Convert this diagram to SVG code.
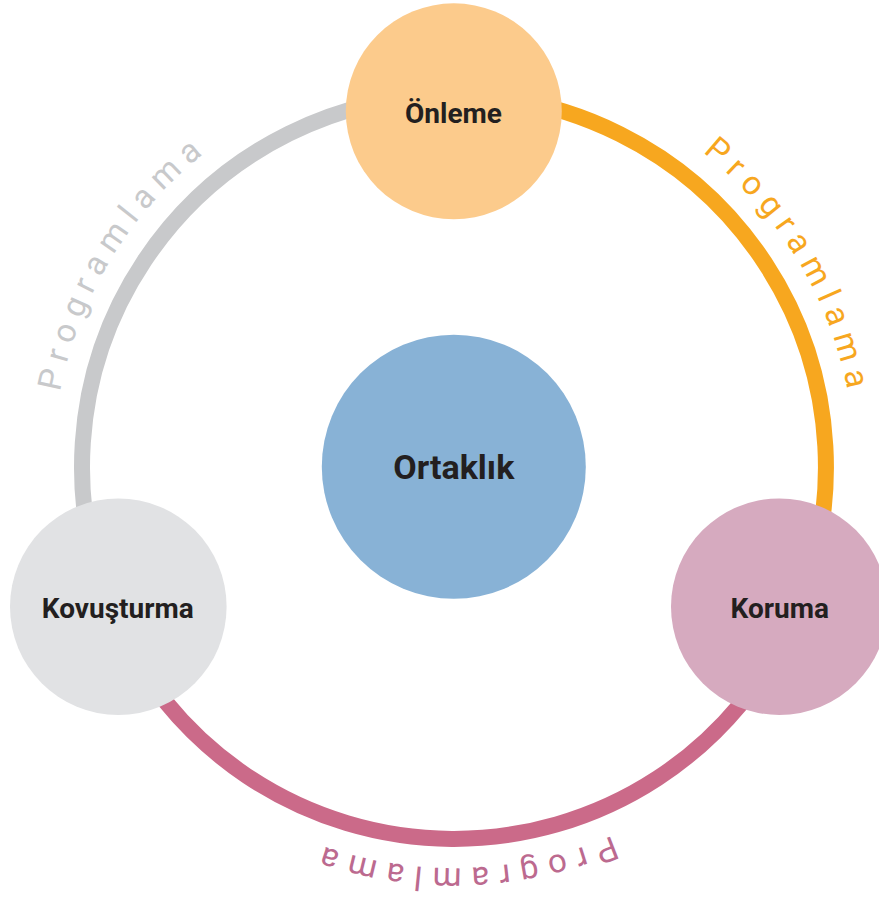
<svg xmlns="http://www.w3.org/2000/svg" xmlns:xlink="http://www.w3.org/1999/xlink" width="879" height="899" viewBox="0 0 879 899">
  <style>
    .ring { fill: none; stroke-width: 16; stroke-linecap: butt; }
    .lbl { font-family: Roboto, "Liberation Sans", sans-serif; font-weight: 700; fill: #231F20; text-anchor: middle; }
    .arc-txt { font-family: Roboto, "Liberation Sans", sans-serif; font-weight: 400; font-size: 33px; letter-spacing: 8.4px; }
  </style>
  <defs>
    <path id="txtCircle" d="M 855 467 A 401 401 0 1 1 53 467 A 401 401 0 1 1 855 467"/>
  </defs>
  <rect width="879" height="899" fill="#FFFFFF"/>

  <g id="connectors">
    <path class="ring" stroke="#C8C9CB" d="M 110.6 610 A 372 372 0 0 1 454 95"/>
    <path class="ring" stroke="#F7A71F" d="M 454 95 A 372 372 0 0 1 795.6 614.1"/>
    <path class="ring" stroke="#CB6A89" d="M 795.6 614.1 A 372 372 0 0 1 110.6 610"/>
    <text class="arc-txt" fill="#C8C9CB"><textPath xlink:href="#txtCircle" startOffset="1334.7">Programlama</textPath></text>
    <text class="arc-txt" fill="#F7A71F"><textPath xlink:href="#txtCircle" startOffset="2156.8">Programlama</textPath></text>
    <text class="arc-txt" fill="#BC6A8F" style="letter-spacing:9.6px"><textPath xlink:href="#txtCircle" startOffset="466.8">Programlama</textPath></text>
  </g>

  <g id="node-onleme">
    <circle cx="453.8" cy="111.3" r="108" fill="#FCCB8C"/>
    <text class="lbl" x="453.5" y="123.3" font-size="28">Önleme</text>
  </g>

  <g id="node-kovusturma">
    <circle cx="118.3" cy="606.7" r="108.3" fill="#E1E2E4"/>
    <text class="lbl" x="117.8" y="618.3" font-size="28">Kovuşturma</text>
  </g>

  <g id="node-koruma">
    <circle cx="779.3" cy="606.7" r="108.3" fill="#D6AABF"/>
    <text class="lbl" x="779.7" y="618.3" font-size="28">Koruma</text>
  </g>

  <g id="node-ortaklik">
    <circle cx="453.8" cy="466.7" r="132" fill="#88B2D6"/>
    <text class="lbl" x="453.8" y="479.3" font-size="34">Ortaklık</text>
  </g>
</svg>
